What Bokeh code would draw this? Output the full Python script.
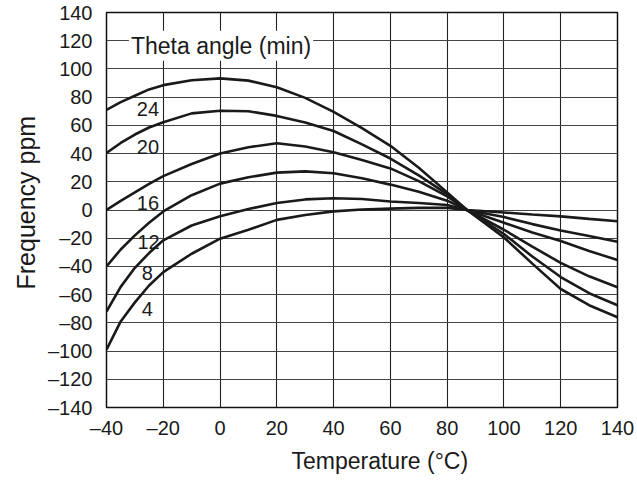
import math
from bokeh.plotting import figure
from bokeh.models import Range1d, Label, FixedTicker, Title
from bokeh.embed import file_html
from bokeh.resources import INLINE

# ---- data ----
temps = [-40, -35, -30, -25, -20, -10, 0, 10, 20, 30, 40, 50, 60, 70, 80, 87, 100, 110, 120, 130, 140]

theta_24 = [71, 76.5, 81, 85.5, 88.5, 92, 93.3, 91.7, 87, 79.5, 69.5, 58, 45.5, 30, 12.5, 0, -19.5, -38, -56, -67.5, -76]
theta_20 = [40.5, 47.5, 53.5, 58.5, 62.2, 68.5, 70.4, 70, 66.7, 62, 56, 46.5, 36.5, 24.5, 11.3, 0, -17, -33, -47.5, -59, -67.5]
theta_16 = [0, 6.5, 12.5, 18.5, 24, 32.6, 40, 44.5, 47.3, 45, 41, 35.5, 29.5, 20.5, 9.7, 0, -14, -26, -37.5, -47, -54.7]
theta_12 = [-40, -28, -18, -9, -1, 10.5, 18.7, 23.2, 26.5, 27.4, 26, 22.5, 18, 13, 6.6, 0, -9, -16, -22, -29, -35.5]
theta_8 = [-72, -54.5, -41, -30.5, -21.5, -11, -4.5, 0.7, 5, 7.5, 8.3, 7.8, 6, 5, 3.5, 0, -5, -10, -14.5, -18.5, -22.5]
theta_4 = [-99, -79, -65.5, -53.5, -44, -31, -20.3, -14, -7, -3.5, -1, 0.3, 1, 1.5, 1.5, 0, -1.8, -3.2, -4.5, -6.3, -8]

series = [("24", theta_24), ("20", theta_20), ("16", theta_16),
          ("12", theta_12), ("8", theta_8), ("4", theta_4)]

x_ticks = [-40, -20, 0, 20, 40, 60, 80, 100, 120, 140]
y_ticks = [-140, -120, -100, -80, -60, -40, -20, 0, 20, 40, 60, 80, 100, 120, 140]

legend_title = "Theta angle (min)"
x_title = "Temperature (°C)"
y_title = "Frequency ppm"

FONT = "Liberation Sans"
INK = "#1a1a1a"


def fmt(v):
    return ("\u2013" + str(abs(v))) if v < 0 else str(v)


p = figure(width=636, height=478, output_backend="svg", toolbar_location=None,
           x_range=Range1d(-40, 140), y_range=Range1d(-140, 140),
           min_border_left=106, min_border_right=19, min_border_top=12, min_border_bottom=71)

p.background_fill_color = "white"
p.border_fill_color = "white"
p.outline_line_color = "#111111"
p.outline_line_width = 1.5

for ax, ticks in ((p.xaxis[0], x_ticks), (p.yaxis[0], y_ticks)):
    ax.ticker = FixedTicker(ticks=ticks)
    ax.major_label_overrides = {t: fmt(t) for t in ticks}
    ax.major_tick_in = 0
    ax.major_tick_out = 0
    ax.minor_tick_in = 0
    ax.minor_tick_out = 0
    ax.axis_line_color = None
    ax.major_label_text_font = FONT
    ax.major_label_text_font_size = "20px"
    ax.major_label_text_color = INK

p.yaxis.major_label_standoff = 14
p.xaxis.major_label_standoff = 9

p.xgrid.grid_line_color = "#222222"
p.xgrid.grid_line_width = 1.1
p.ygrid.grid_line_color = "#444444"
p.ygrid.grid_line_width = 1.1

for name, vals in series:
    p.line(temps, vals, line_color=INK, line_width=2.6)

# curve labels
label_pos = {"24": (-25.4, 71.6), "20": (-25.4, 45), "16": (-25.4, 5),
             "12": (-25.2, -22.9), "8": (-25.6, -45), "4": (-25.6, -70)}
for name, _ in series:
    lx, ly = label_pos[name]
    p.add_layout(Label(x=lx, y=ly, text=name, text_align="center", text_baseline="middle",
                       text_font=FONT, text_font_size="20px", text_color=INK))

p.add_layout(Label(x=-32.1, y=116.5, text=legend_title, text_align="left",
                   text_baseline="alphabetic", text_font=FONT, text_font_size="23px",
                   text_color=INK, background_fill_color="white", padding=2))

p.add_layout(Title(text=x_title, align="left", offset=185, standoff=8,
                   text_font=FONT, text_font_size="23px", text_font_style="normal",
                   text_color=INK), "below")

p.add_layout(Title(text=y_title, align="left", offset=118, standoff=12,
                   text_font=FONT, text_font_size="25px", text_font_style="normal",
                   text_color=INK), "left")

open("out.html", "w").write(file_html(p, INLINE))
